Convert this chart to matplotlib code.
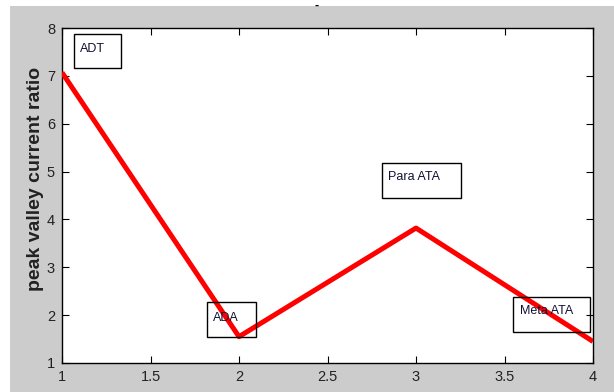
import matplotlib.pyplot as plt
from matplotlib.patches import Rectangle

plt.rcParams['font.family'] = ['Liberation Sans', 'DejaVu Sans']

# data
x = [1, 2, 3, 4]
ratio = [7.07, 1.55, 3.82, 1.45]

# annotation boxes: label, text x, text y, box (x0, y0, x1, y1) in data units
labels = ['ADT', 'ADA', 'Para ATA', 'Meta ATA']
label_xy = [(1.10, 7.56), (1.853, 1.95), (2.842, 4.88), (3.588, 2.08)]
boxes = [(1.068, 7.164, 1.332, 7.875),
         (1.819, 1.544, 2.096, 2.275),
         (2.808, 4.45, 3.254, 5.18),
         (3.548, 1.65, 3.983, 2.38)]

fig = plt.figure(figsize=(6.14, 3.92), dpi=100, facecolor='white')
# matlab-ish gray figure background, offset from the top/left edge
fig.patches.append(Rectangle((10 / 614, 0), 1, 1 - 6 / 392, transform=fig.transFigure,
                             facecolor='#cccccc', edgecolor='none', zorder=-10))

ax = fig.add_axes([62 / 614, (392 - 363) / 392, (593 - 62) / 614, (363 - 28) / 392])
ax.set_facecolor('white')

ax.plot(x, ratio, color='red', linewidth=3.6, solid_capstyle='butt', zorder=3)

for lab, (tx, ty), (x0, y0, x1, y1) in zip(labels, label_xy, boxes):
    ax.add_patch(Rectangle((x0, y0), x1 - x0, y1 - y0, fill=False,
                           edgecolor='black', linewidth=1.0, zorder=4))
    ax.text(tx, ty, lab, fontsize=9, ha='left', va='center', color='#111133', zorder=5)

ax.set_xlim(1, 4)
ax.set_ylim(1, 8)
ax.set_xticks([1, 1.5, 2, 2.5, 3, 3.5, 4])
ax.set_xticklabels(['1', '1.5', '2', '2.5', '3', '3.5', '4'])
ax.set_yticks(range(1, 9))
ax.tick_params(direction='in', top=True, right=True, length=5, width=0.8,
               labelsize=10.5, pad=5, labelcolor='#222222')
for s in ax.spines.values():
    s.set_linewidth(1.0)

ax.set_ylabel('peak valley current ratio', fontsize=14, fontweight='bold', color='#222222')
ax.yaxis.set_label_coords(-0.034, 0.549)

fig.text(0.515, 0.985, '-', ha='center', va='center', fontsize=9, fontweight='bold')

fig.savefig('out.png', dpi=100, facecolor=fig.get_facecolor())
